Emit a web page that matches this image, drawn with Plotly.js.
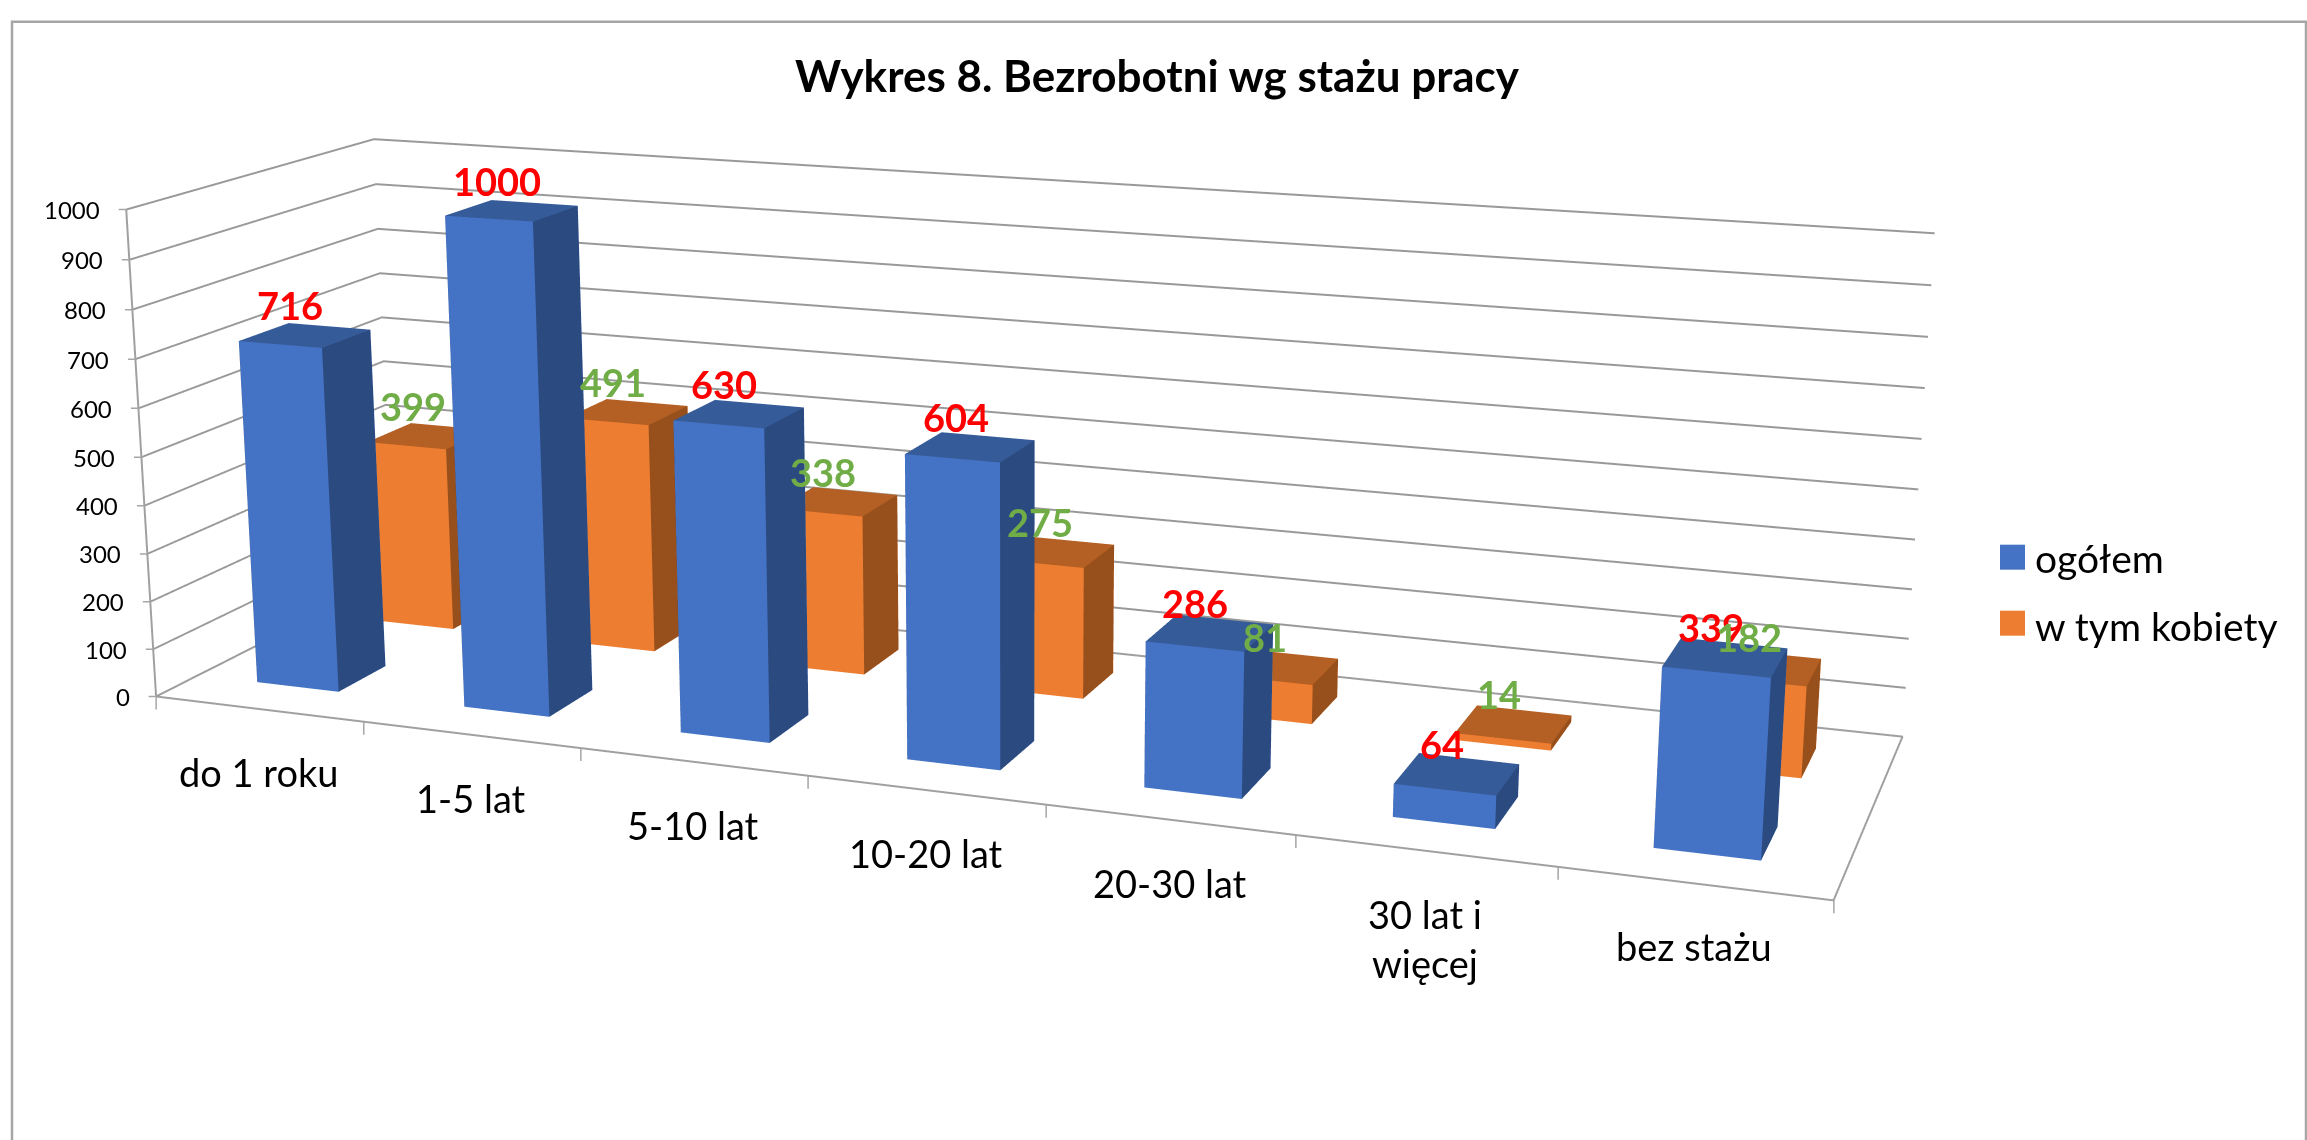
<!DOCTYPE html>
<html><head><meta charset="utf-8"><script src="https://cdn.plot.ly/plotly-3.0.1.min.js"></script>
<style>html,body{margin:0;padding:0;background:#fff;overflow:hidden;width:2307px;height:1140px}#c{position:absolute}</style></head><body><div id="c"></div>
<script>
var categories=['do 1 roku','1-5 lat','5-10 lat','10-20 lat','20-30 lat','30 lat i<br>więcej','bez stażu'];
var ogolem=[716,1000,630,604,286,64,339];
var kobiety=[399,491,338,275,81,14,182];
var seriesNames=['ogółem','w tym kobiety'];
var zTicks=[0,100,200,300,400,500,600,700,800,900,1000];
var barLeft=0.2926,barWidth=0.3981,rowFront=[0.3247,1.3252],barDepth=0.3954;
var blue=['#4472c4','#2b4a80','#365b99'],orange=['#ed7d31','#97501c','#b45f23'];
var sceneH=3010.33,sceneCx=1013.71,sceneCy=495.31,L=260;
var top0=sceneCy-sceneH/2,Wt=2307+L,Ws=2*(sceneCx+L);
var el=document.getElementById('c');el.style.left=(-L)+'px';el.style.top=top0+'px';
function pxX(x){return (x+L)/Wt}
function pxY(y){return 1-(y-top0)/sceneH}
function barTrace(ci,row,val,cols,nm){
 var x0=ci+barLeft,x1=x0+barWidth,y0=rowFront[row],y1=y0+barDepth;
 return {type:'mesh3d',x:[x0,x1,x1,x0,x0,x1,x1,x0],y:[y0,y0,y1,y1,y0,y0,y1,y1],z:[0,0,0,0,val,val,val,val],
 i:[0,0,4,4,0,0,1,1,2,2,3,3],j:[1,2,5,6,1,5,2,6,3,7,0,4],k:[2,3,6,7,5,4,6,5,7,6,4,7],
 facecolor:[cols[0],cols[0],cols[2],cols[2],cols[0],cols[0],cols[1],cols[1],cols[0],cols[0],cols[1],cols[1]],
 flatshading:true,lighting:{ambient:1,diffuse:0,specular:0,roughness:1,fresnel:0},name:nm,showlegend:false,hoverinfo:'skip'};
}
var data=[];
categories.forEach(function(c,i){data.push(barTrace(i,0,ogolem[i],blue,seriesNames[0]));});
categories.forEach(function(c,i){data.push(barTrace(i,1,kobiety[i],orange,seriesNames[1]));});
data.push({type:'scatter3d',mode:'lines',x:[0,7,7,0,0,0],y:[0,0,2,2,0,0],z:[0,0,0,0,0,1000],line:{color:'#a0a0a0',width:4},showlegend:false,hoverinfo:'skip'});
[[seriesNames[0],blue[0]],[seriesNames[1],orange[0]]].forEach(function(s){
 data.push({type:'scatter3d',mode:'markers',x:[null],y:[null],z:[null],name:s[0],legendgroup:s[0],marker:{symbol:'square',size:16,color:s[1],line:{width:0}},showlegend:true,hoverinfo:'skip'});
});
var ann=[];
var tickColor='#a6a6a6';
zTicks.forEach(function(z){
 ann.push({x:0,y:0,z:z,text:String(z),showarrow:false,xanchor:'right',xshift:-24,font:{family:'Lato',size:24,color:'#000'}});
 ann.push({x:0,y:0,z:z,text:' ',showarrow:true,arrowhead:0,arrowwidth:1.5,arrowcolor:tickColor,ax:-9,ay:0,standoff:0,font:{size:1}});
});
for(var t=0;t<=categories.length;t++)ann.push({x:t,y:0,z:0,text:' ',showarrow:true,arrowhead:0,arrowwidth:1.5,arrowcolor:tickColor,ax:0,ay:15,standoff:0,font:{size:1}});
categories.forEach(function(c,i){ann.push({x:i+.5,y:0,z:0,text:c,showarrow:false,yshift:c.indexOf('<br>')>=0?-88:-63,font:{family:'Lato',size:38,color:'#000'}});});
function labels(vals,row,color){vals.forEach(function(v,i){ann.push({x:i+barLeft+barWidth/2,y:rowFront[row]+barDepth/2,z:v,text:String(v),showarrow:false,yanchor:'bottom',xshift:-15,yshift:5,font:{family:'Lato',size:38,color:color,weight:700}});});}
labels(ogolem,0,'#ff0000');labels(kobiety,1,'#70ad47');
var shapes=[
 {type:'rect',xref:'paper',yref:'paper',x0:pxX(12),x1:pxX(2306),y0:pxY(22),y1:pxY(1300),line:{color:'#a6a6a6',width:2.5},fillcolor:'rgba(0,0,0,0)',layer:'below'},
 {type:'rect',xref:'paper',yref:'paper',x0:pxX(2000),x1:pxX(2025),y0:pxY(545),y1:pxY(570),line:{width:0},fillcolor:blue[0],layer:'below'},
 {type:'rect',xref:'paper',yref:'paper',x0:pxX(2000),x1:pxX(2025),y0:pxY(611),y1:pxY(636),line:{width:0},fillcolor:orange[0],layer:'below'}
];
Plotly.newPlot('c',data,{width:Wt,height:sceneH,margin:{l:0,r:0,t:0,b:0,pad:0},paper_bgcolor:'rgba(0,0,0,0)',autosize:false,
title:{text:'Wykres 8. Bezrobotni wg stażu pracy',font:{family:'Lato',size:44,weight:700,color:'#000'},x:pxX(1157),xanchor:'center',y:pxY(77),yanchor:'middle'},
legend:{x:pxX(1995),y:pxY(526),yanchor:'top',font:{family:'Lato',size:39,color:'#000'},tracegroupgap:15,traceorder:'grouped'},
shapes:shapes,
scene:{domain:{x:[0,Ws/Wt],y:[0,1]},aspectmode:'manual',aspectratio:{x:3.3579,y:0.9603,z:1},
camera:{eye:{x:2.3901,y:-6.4855,z:1.7258},center:{x:0.059,y:-0.1634,z:0},up:{x:0.0021,y:0,z:1},projection:{type:'perspective'}},
annotations:ann,
xaxis:{range:[0,7],showgrid:false,showticklabels:false,zeroline:false,showline:false,ticks:'',title:{text:''},showspikes:false,showbackground:false},
yaxis:{range:[0,2],showgrid:false,showticklabels:false,zeroline:false,showline:false,ticks:'',title:{text:''},showspikes:false,showbackground:false},
zaxis:{range:[0,1000],dtick:100,showgrid:true,gridcolor:'#999999',gridwidth:4,showticklabels:false,zeroline:false,showline:false,ticks:'',title:{text:''},showspikes:false,showbackground:false}}},{displayModeBar:false});
</script></body></html>
